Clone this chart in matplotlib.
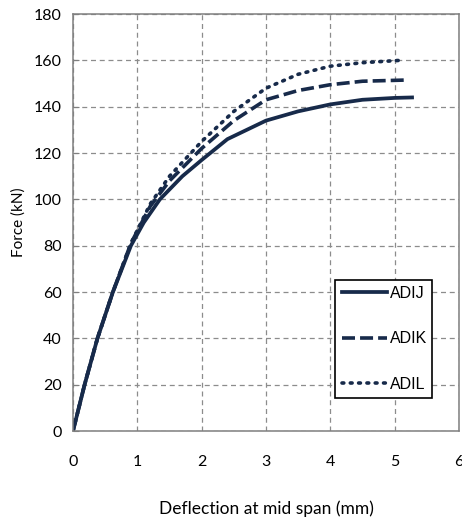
import matplotlib
matplotlib.use("Agg")
import matplotlib.pyplot as plt

# load-deflection curves
adij_x = [0, 0.18, 0.38, 0.62, 0.9, 1.1, 1.35, 1.7, 2.0, 2.4, 3.0, 3.5, 4.0, 4.5, 5.0, 5.27]
adij_y = [0, 20, 40, 60, 80, 90, 100, 110, 117, 126, 134, 138, 141, 143, 143.8, 144]

adik_x = [0, 0.18, 0.38, 0.62, 0.9, 1.2, 1.5, 2.0, 2.5, 3.0, 3.5, 4.0, 4.5, 5.16]
adik_y = [0, 20, 40, 60, 81, 97, 108, 122, 134, 143, 147, 149.5, 151, 151.5]

adil_x = [0, 0.18, 0.38, 0.62, 0.9, 1.2, 1.5, 2.0, 2.5, 3.0, 3.5, 4.0, 4.5, 5.08]
adil_y = [0, 20, 40, 60, 81, 98, 110, 125, 138, 148, 154, 157.5, 159, 160]

color = "#172a4a"

fig = plt.figure(figsize=(4.62, 5.2), dpi=100)
ax = fig.add_axes([0.158, 0.171, 0.8355, 0.802])

ax.plot(adij_x, adij_y, color=color, lw=2.7, ls="-", label="ADIJ")
ax.plot(adik_x, adik_y, color=color, lw=2.6, ls=(0, (3.6, 1.4)), label="ADIK")
ax.plot(adil_x, adil_y, color=color, lw=2.6, ls=(0, (0.5, 1.8)), label="ADIL",
        dash_capstyle="round")

ax.set_xlim(0, 6)
ax.set_ylim(0, 180)
ax.set_xticks(range(0, 7))
ax.set_yticks(range(0, 181, 20))
ax.grid(True, color="#8c8c8c", ls=(0, (4, 3)), lw=0.9)
ax.set_axisbelow(True)
for s in ax.spines.values():
    s.set_color("#7f7f7f")
    s.set_linewidth(1.1)
ax.tick_params(axis="y", direction="in", colors="#7f7f7f", labelcolor="black",
               labelsize=11.5, length=4, pad=8)
ax.tick_params(axis="x", labelsize=11.5, length=0, pad=17)
for t in ax.get_xticklabels() + ax.get_yticklabels():
    t.set_fontfamily("Lato")

ax.set_xlabel("Deflection at mid span (mm)", fontsize=12.5, fontfamily="Lato", labelpad=23)
ax.set_ylabel("Force (kN)", fontsize=11, fontfamily="Lato", labelpad=6)

leg = ax.legend(loc="lower left", bbox_to_anchor=(0.68, 0.079, 0.25, 0.324),
                mode="expand", fancybox=False, edgecolor="black", framealpha=1,
                handlelength=2.8, handletextpad=0.2, labelspacing=1.9,
                borderaxespad=0, prop={"family": "Liberation Sans", "size": 11.5})
leg.get_frame().set_linewidth(1.2)

fig.savefig("out.png", dpi=100)
